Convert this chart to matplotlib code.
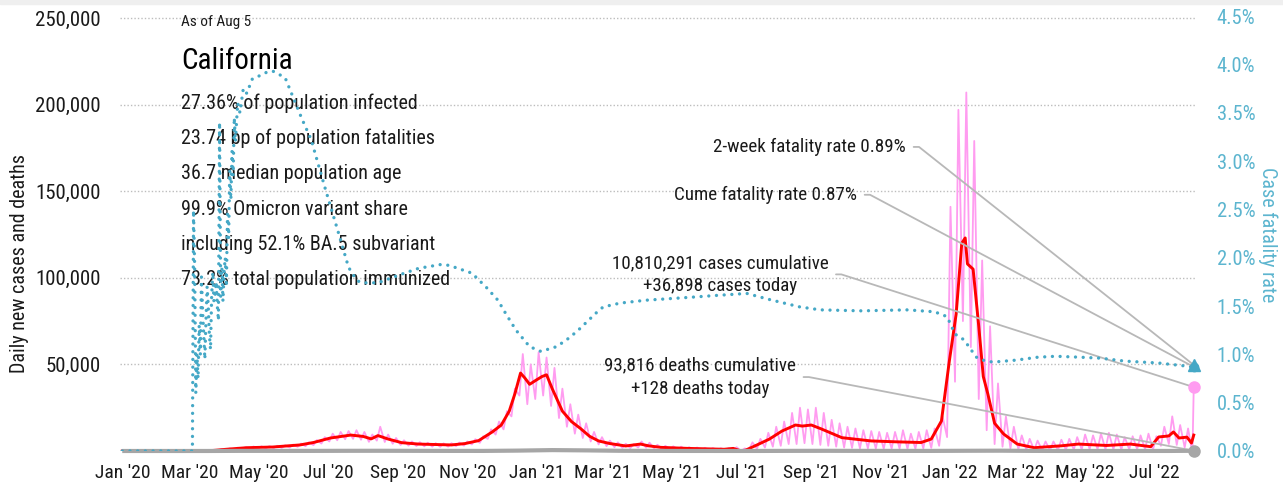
"""
California COVID-19 daily cases, deaths and case fatality rate (as of Aug 5, 2022)
"""

import matplotlib
matplotlib.use('Agg')
import matplotlib.pyplot as plt
import matplotlib.dates as mdates
from matplotlib import font_manager
from matplotlib.patches import Rectangle
import numpy as np
import pandas as pd


def pick_narrow_font():
    """look for an installed condensed / narrow regular face"""
    prefs = ['roboto', 'liberation', 'noto', 'opensans', 'open sans', 'dejavu', '']
    bad = ['bold', 'italic', 'oblique', 'light', 'thin', 'medium', 'black',
           'semi', 'extra', 'ultra', 'mono', 'serif', 'cjk']
    found = []
    for f in font_manager.fontManager.ttflist:
        fn = f.fname.lower().split('/')[-1]
        if not ('condensed' in fn or 'narrow' in fn):
            continue
        if any(b in fn for b in bad):
            continue
        rank = next(i for i, p in enumerate(prefs) if p in fn)
        found.append((rank, f))
    if not found:
        return 'DejaVu Sans', 'normal'
    found.sort(key=lambda t: t[0])
    return found[0][1].name, found[0][1].stretch


FONT_NAME, FONT_STRETCH = pick_narrow_font()
plt.rcParams['font.family'] = [FONT_NAME, 'DejaVu Sans']
plt.rcParams['font.stretch'] = FONT_STRETCH

# ---- data ----
# daily new cases: weekly low / high, weeks starting 2020-01-01
cases_lo = [0, 0, 0, 0, 0, 0, 0, 0, 0, 20,
            100, 250, 500, 700, 900, 1100, 1300, 1400, 1500, 1700,
            1800, 2000, 2400, 2800, 3400, 4300, 5500, 6200, 6800, 7000,
            6500, 5300, 6000, 5200, 4200, 3500, 3100, 2900, 2700, 2500,
            2400, 2500, 2800, 3100, 3800, 4700, 7000, 9500, 12500, 20000,
            32000, 27000, 30000, 32000, 26000, 19000, 14000, 10000, 7500, 5500,
            3800, 2800, 2200, 1800, 1700, 2000, 1900, 1500, 1200, 1000,
            900, 800, 700, 600, 500, 450, 450, 600, 0, 800,
            1200, 2000, 2500, 3000, 4000, 4000, 4500, 4000, 3500, 3000,
            2500, 2000, 1800, 1500, 1500, 1400, 1300, 1400, 1400, 1200,
            1300, 1500, 1800, 3000, 8000, 40000, 75000, 60000, 30000, 12000,
            4000, 2500, 1500, 1000, 800, 600, 500, 500, 600, 700,
            800, 900, 1000, 1000, 1000, 900, 800, 900, 1000, 1000,
            800, 3000, 4000, 3500, 2000]
cases_hi = [0, 0, 0, 0, 0, 0, 0, 0, 10, 80,
            300, 700, 1200, 1500, 1900, 2200, 2600, 2700, 2800, 3000,
            3300, 3700, 4300, 5000, 6300, 8000, 10000, 11000, 11500, 12000,
            11000, 9500, 14000, 9500, 7500, 6200, 5500, 5100, 4800, 4500,
            4400, 4500, 4900, 5500, 6800, 8500, 12500, 17000, 23000, 36000,
            56000, 50000, 57000, 54000, 48000, 36000, 27000, 21000, 16000, 11000,
            8000, 6000, 5000, 4200, 4000, 5500, 4800, 3600, 3000, 2700,
            2500, 2200, 2000, 1800, 1700, 1600, 1600, 2200, 1500, 5000,
            7000, 10500, 14000, 17000, 22000, 25000, 24000, 25000, 22000, 18000,
            16000, 14000, 13000, 12000, 11500, 11000, 10500, 11000, 12000, 10000,
            11000, 12000, 13000, 20000, 141000, 197000, 207000, 179000, 110000, 72000,
            39000, 20000, 14000, 9000, 7000, 6000, 5500, 5500, 6500, 7000,
            8000, 9500, 9000, 10000, 10500, 9500, 8000, 8500, 9000, 10000,
            8500, 14000, 20000, 15000, 13000]
tail_dates = ['2022-08-03', '2022-08-04', '2022-08-05']
tail_cases = [1500, 3000, 36898]

# 7-day average of new cases
avg_dates = ['2020-01-01', '2020-03-01', '2020-03-12', '2020-03-22', '2020-04-02',
             '2020-04-20', '2020-05-13', '2020-06-06', '2020-06-18', '2020-07-03',
             '2020-07-21', '2020-08-01', '2020-08-08', '2020-08-14', '2020-08-23',
             '2020-09-04', '2020-09-19', '2020-10-18', '2020-10-30', '2020-11-11',
             '2020-11-23', '2020-12-01', '2020-12-08', '2020-12-13', '2020-12-18',
             '2020-12-22', '2020-12-26', '2021-01-01', '2021-01-06', '2021-01-10',
             '2021-01-15', '2021-01-24', '2021-02-01', '2021-02-09', '2021-02-17',
             '2021-02-25', '2021-03-07', '2021-03-21', '2021-04-03', '2021-04-10',
             '2021-04-21', '2021-05-15', '2021-06-16', '2021-06-24', '2021-07-01',
             '2021-07-05', '2021-07-15', '2021-07-26', '2021-08-06', '2021-08-18',
             '2021-08-24', '2021-09-01', '2021-09-10', '2021-09-28', '2021-10-24',
             '2021-11-15', '2021-12-07', '2021-12-16', '2021-12-25', '2022-01-01',
             '2022-01-07', '2022-01-12', '2022-01-15', '2022-01-17', '2022-01-22',
             '2022-01-27', '2022-01-31', '2022-02-04', '2022-02-10', '2022-02-18',
             '2022-03-02', '2022-03-17', '2022-04-10', '2022-04-25', '2022-05-20',
             '2022-06-10', '2022-06-28', '2022-07-05', '2022-07-14', '2022-07-18',
             '2022-07-23', '2022-07-30', '2022-08-03', '2022-08-05']
avg_cases = [0, 0, 60, 350, 1000,
             1900, 2300, 3500, 4900, 7500,
             9200, 8400, 7000, 8900, 6900,
             4800, 4000, 3500, 4300, 6000,
             11000, 15000, 23000, 33000, 45000,
             42000, 38500, 41000, 43000, 44000,
             36000, 23000, 17000, 13000, 8500,
             5800, 4300, 2900, 4000, 3000,
             2100, 1500, 1000, 1500, 0,
             500, 3500, 6900, 11500, 15000,
             14400, 15000, 12700, 7700, 5800,
             5300, 4900, 6900, 17300, 52000,
             79000, 120000, 123000, 108000, 105000,
             72000, 43000, 33000, 16000, 9800,
             4000, 1900, 3000, 4000, 3200,
             4000, 2500, 8100, 8700, 11000,
             7500, 8000, 4600, 9200]

# daily deaths
death_dates = ['2020-01-01', '2020-03-15', '2020-04-15', '2020-05-15', '2020-06-15',
               '2020-07-15', '2020-08-15', '2020-09-15', '2020-10-15', '2020-11-15',
               '2020-12-15', '2021-01-15', '2021-02-15', '2021-03-15', '2021-04-15',
               '2021-05-15', '2021-06-15', '2021-07-15', '2021-08-15', '2021-09-15',
               '2021-10-15', '2021-11-15', '2021-12-15', '2022-01-15', '2022-02-15',
               '2022-03-15', '2022-04-15', '2022-05-15', '2022-06-15', '2022-07-15',
               '2022-08-05']
deaths = [0, 10, 80, 70, 60, 110, 130, 90, 60, 50,
          220, 520, 350, 130, 60, 35, 25, 30, 80, 110,
          70, 50, 50, 130, 180, 60, 25, 20, 25, 35, 128]

# cumulative case fatality rate, %
cfr_dates = ['2020-01-01', '2020-03-03', '2020-03-04', '2020-03-05', '2020-03-06',
             '2020-03-07', '2020-03-08', '2020-03-09', '2020-03-10', '2020-03-11',
             '2020-03-12', '2020-03-13', '2020-03-14', '2020-03-15', '2020-03-16',
             '2020-03-17', '2020-03-18', '2020-03-19', '2020-03-20', '2020-03-21',
             '2020-03-22', '2020-03-23', '2020-03-24', '2020-03-25', '2020-03-26',
             '2020-03-27', '2020-03-28', '2020-03-29', '2020-03-30', '2020-03-31',
             '2020-04-01', '2020-04-02', '2020-04-03', '2020-04-04', '2020-04-05',
             '2020-04-06', '2020-04-07', '2020-04-08', '2020-04-09', '2020-04-10',
             '2020-04-12', '2020-04-14', '2020-04-17', '2020-04-20', '2020-04-25',
             '2020-05-01', '2020-05-08', '2020-05-13', '2020-05-18', '2020-05-24',
             '2020-06-01', '2020-06-08', '2020-06-16', '2020-06-28', '2020-07-10',
             '2020-07-19', '2020-07-26', '2020-07-30', '2020-08-14', '2020-09-04',
             '2020-09-19', '2020-10-09', '2020-10-16', '2020-11-05', '2020-11-18',
             '2020-11-28', '2020-12-05', '2020-12-14', '2020-12-26', '2021-01-05',
             '2021-01-19', '2021-01-30', '2021-02-07', '2021-02-23', '2021-03-01',
             '2021-03-16', '2021-04-08', '2021-05-17', '2021-06-10', '2021-07-06',
             '2021-07-25', '2021-08-08', '2021-08-22', '2021-09-09', '2021-10-15',
             '2021-11-25', '2021-12-19', '2021-12-30', '2022-01-06', '2022-01-14',
             '2022-01-20', '2022-01-25', '2022-02-02', '2022-02-09', '2022-03-01',
             '2022-03-20', '2022-04-05', '2022-04-27', '2022-05-15', '2022-06-05',
             '2022-07-05', '2022-08-05']
cfr = [0, 0, 2.49, 1.9, 0.6,
       1.0, 0.75, 1.3, 1.0, 1.8,
       1.45, 1.2, 0.95, 1.35, 1.7,
       1.5, 1.2, 1.05, 1.6, 1.85,
       1.55, 1.6, 1.75, 1.5, 1.35,
       3.4, 1.6, 1.9, 1.55, 1.85,
       2.0, 1.7, 2.45, 2.2, 2.9,
       2.6, 3.1, 2.85, 3.45, 3.2,
       3.6, 3.5, 3.75, 3.7, 3.85,
       3.88, 3.92, 3.93, 3.9, 3.86,
       3.63, 3.43, 3.22, 2.73, 2.26,
       1.9, 1.77, 1.74, 1.74, 1.83,
       1.89, 1.93, 1.92, 1.84, 1.69,
       1.56, 1.42, 1.25, 1.08, 1.03,
       1.08, 1.17, 1.25, 1.43, 1.49,
       1.53, 1.56, 1.59, 1.61, 1.63,
       1.57, 1.53, 1.49, 1.46, 1.45,
       1.46, 1.44, 1.39, 1.21, 1.15,
       1.05, 0.97, 0.93, 0.92, 0.94,
       0.97, 0.98, 0.97, 0.96, 0.93,
       0.91, 0.87]

as_of = '2022-08-05'
cases_total = '10,810,291'
cases_today = 36898
deaths_total = '93,816'
deaths_today = 128
cfr_2week = 0.89
cfr_cume = 0.87

stats = ['27.36% of population infected',
         '23.74 bp of population fatalities',
         '36.7 median population age',
         '99.9% Omicron variant share',
         'including 52.1% BA.5 subvariant',
         '73.2% total population immunized']

PINK = '#ff9cf0'
RED = '#ff0000'
GRAY = '#a6a6a6'
CYAN = '#45a8c6'
CYAN_TXT = '#5cb5cf'
LINE = '#b8b8b8'
TXT = '#1a1a1a'

# ---- build series ----
week_start = pd.date_range('2020-01-01', periods=len(cases_hi), freq='7D')
daily_x, daily_y = [], []
for d, lo, hi in zip(week_start, cases_lo, cases_hi):
    daily_x += [d + pd.Timedelta(days=1), d + pd.Timedelta(days=4)]
    daily_y += [lo, hi]
daily_x += list(pd.to_datetime(tail_dates))
daily_y += tail_cases

end = pd.Timestamp(as_of)

# ---- figure ----
fig = plt.figure(figsize=(12.83, 4.91), dpi=100)
fig.add_artist(Rectangle((0, 1 - 4 / 491), 1, 4 / 491, transform=fig.transFigure,
                         color='#efefef', zorder=0))
ax = fig.add_axes([120 / 1283, 40 / 491, 1076 / 1283, 435 / 491])

ax.plot(daily_x, daily_y, color=PINK, lw=1.3, zorder=2)
ax.plot(pd.to_datetime(avg_dates), avg_cases, color=RED, lw=2.1, zorder=3)
ax.plot(pd.to_datetime(death_dates), deaths, color=GRAY, lw=3, zorder=4,
        solid_capstyle='butt', clip_on=False)

ax.plot([end], [cases_today], 'o', color=PINK, ms=8, clip_on=False, zorder=6)
ax.plot([end], [deaths_today], 'o', color=GRAY, ms=8, clip_on=False, zorder=6)

ax.set_xlim(pd.Timestamp('2019-12-30'), pd.Timestamp('2022-08-07'))
ax.set_ylim(0, 250000 * 435 / 433)
ax.set_yticks([50000, 100000, 150000, 200000, 250000])
ax.yaxis.set_major_formatter(plt.FuncFormatter(lambda v, p: f'{int(v):,}'))
ax.xaxis.set_major_locator(mdates.MonthLocator(bymonth=[1, 3, 5, 7, 9, 11]))
ax.xaxis.set_major_formatter(mdates.DateFormatter("%b '%y"))
ax.tick_params(axis='both', length=0, colors=TXT)
ax.tick_params(axis='y', pad=14, labelsize=15)
ax.tick_params(axis='x', pad=9, labelsize=14)
ax.grid(axis='y', color='#bdbdbd', lw=1, linestyle=(0, (1, 1.5)))
ax.set_axisbelow(True)
for s in ax.spines.values():
    s.set_visible(False)
ax.set_ylabel('Daily new cases and deaths', fontsize=14.5, color=TXT)
ax.yaxis.set_label_coords(-0.085, 0.43)

# ---- case fatality rate on right axis ----
ax2 = ax.twinx()
ax2.plot(pd.to_datetime(cfr_dates), cfr, color=CYAN, lw=2.4,
         linestyle=(0, (0.01, 2.3)), dash_capstyle='round', zorder=3)
ax2.plot([end], [cfr_cume], 'o', color=CYAN, ms=6, clip_on=False, zorder=6)
ax2.plot([end], [cfr_2week], '^', color=CYAN, ms=9, clip_on=False, zorder=6)
ax2.set_ylim(0, 4.5)
ax2.set_yticks(np.arange(0, 4.51, 0.5))
ax2.yaxis.set_major_formatter(plt.FuncFormatter(lambda v, p: f'{v:.1f}%'))
ax2.tick_params(axis='y', length=0, labelsize=14.8, colors=CYAN_TXT, pad=15)
for s in ax2.spines.values():
    s.set_visible(False)
ax2.set_ylabel('Case fatality rate', fontsize=14.5, color=CYAN_TXT, rotation=-90)
ax2.yaxis.set_label_coords(1.0755, 0.497)

# ---- header text block ----
ax.text(0.0567, 0.986, 'As of Aug 5', transform=ax.transAxes, fontsize=11,
        color=TXT, va='center', ha='left')
ax.text(0.0567, 0.897, 'California', transform=ax.transAxes, fontsize=21,
        color='black', va='center', ha='left')
for k, line in enumerate(stats):
    ax.text(0.0567, 0.8 - k * 0.0813, line, transform=ax.transAxes,
            fontsize=14.5, color=TXT, va='center', ha='left')

# ---- callouts ----
arrow = dict(arrowstyle='-', color=LINE, lw=1.3, shrinkA=3.5, shrinkB=0,
             relpos=(1, 0.5), connectionstyle='arc,angleA=0,armA=13,rad=0')
ax2.annotate(f'2-week fatality rate {cfr_2week:.2f}%', xy=(end, cfr_2week),
             xytext=(0.7305, 0.699), textcoords='axes fraction', ha='right',
             va='center', fontsize=13.7, color=TXT, arrowprops=arrow)
ax2.annotate(f'Cume fatality rate {cfr_cume:.2f}%', xy=(end, cfr_cume),
             xytext=(0.685, 0.589), textcoords='axes fraction', ha='right',
             va='center', fontsize=13.7, color=TXT, arrowprops=arrow)
ax.annotate(f'{cases_total} cases cumulative\n+{cases_today:,} cases today',
            xy=(end, cases_today), xytext=(0.5576, 0.406),
            textcoords='axes fraction', ha='center', va='center',
            multialignment='center', fontsize=13.7, color=TXT,
            linespacing=1.35, arrowprops=arrow)
ax.annotate(f'{deaths_total} deaths cumulative\n+{deaths_today} deaths today',
            xy=(end, deaths_today), xytext=(0.539, 0.170),
            textcoords='axes fraction', ha='center', va='center',
            multialignment='center', fontsize=13.7, color=TXT,
            linespacing=1.35, arrowprops=arrow)

fig.savefig('out.png', dpi=100)
